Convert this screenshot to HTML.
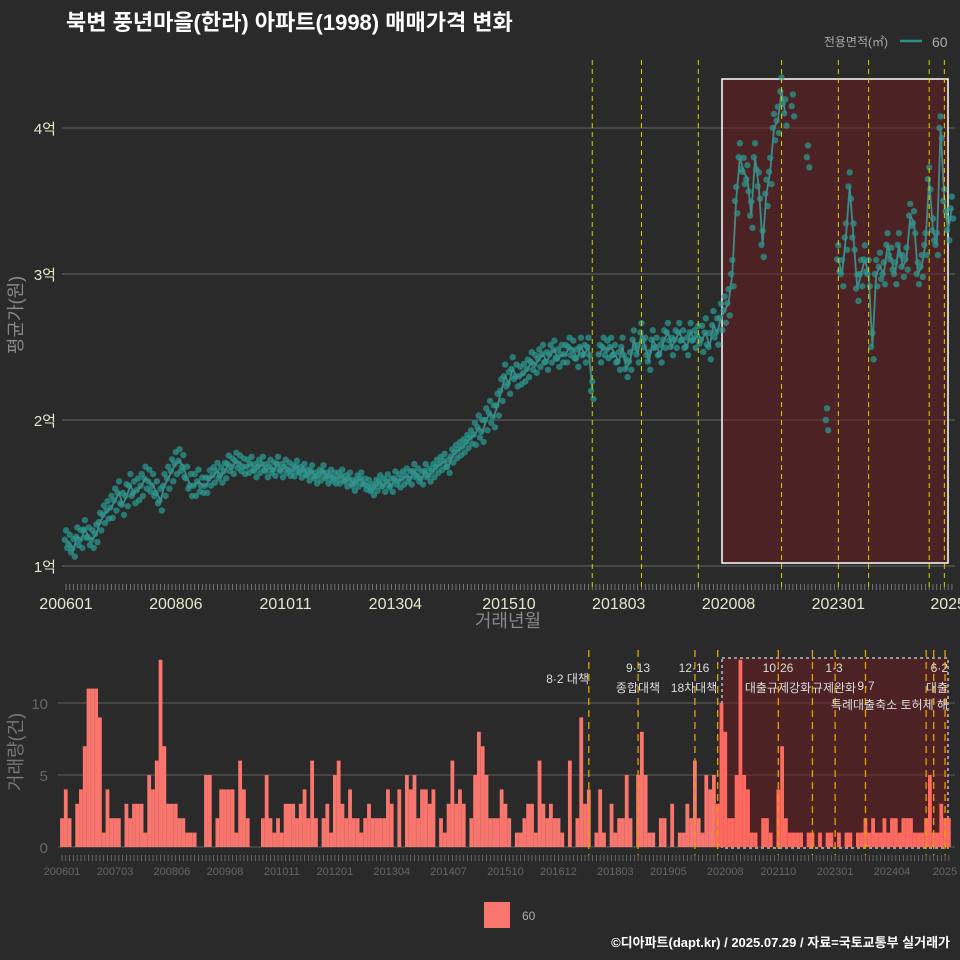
<!DOCTYPE html>
<html><head><meta charset="utf-8">
<style>
body{margin:0;background:#2a2a2a;}
svg{display:block;font-family:"Liberation Sans","Noto Sans CJK KR",sans-serif;}
</style></head><body>
<svg id="c" width="960" height="960" viewBox="0 0 960 960">
<rect width="960" height="960" fill="#2a2a2a"/>
<text x="66" y="30" fill="#fff" font-size="22" font-weight="bold">북변 풍년마을(한라) 아파트(1998) 매매가격 변화</text>
<g>
<text x="888" y="46" fill="#aaa" font-size="12" text-anchor="end">전용면적(㎡)</text>
<line x1="900" y1="41" x2="922" y2="41" stroke="#2e8f8a" stroke-width="2.5"/>
<text x="932" y="47" fill="#aaa" font-size="14">60</text>
</g>
<g id="topPanel"></g>
<g id="botPanel"></g>
<text transform="translate(22,315) rotate(-90)" fill="#888" font-size="18" text-anchor="middle">평균가(원)</text>
<text x="508" y="627" fill="#888" font-size="18" text-anchor="middle">거래년월</text>
<text transform="translate(22,752) rotate(-90)" fill="#777" font-size="18" text-anchor="middle">거래량(건)</text>
<rect x="484" y="902" width="26" height="26" fill="#f8766d"/>
<text x="522" y="920" fill="#aaa" font-size="12">60</text>
<text x="950" y="947" fill="#fff" font-size="13" font-weight="bold" text-anchor="end">©디아파트(dapt.kr) / 2025.07.29 / 자료=국토교통부 실거래가</text>
</svg>
<script>
const avgPrice=[1.18,1.15,1.12,1.2,1.18,1.25,1.2,1.18,1.22,1.3,1.35,1.38,
1.4,1.45,1.5,1.42,1.48,1.55,1.5,1.52,1.55,1.6,1.58,1.55,
1.5,1.45,1.55,1.6,1.65,1.7,1.72,1.68,1.6,1.55,1.55,1.58,
1.55,1.55,1.6,1.62,1.65,1.62,1.65,1.7,1.68,1.72,1.7,1.68,
1.68,1.7,1.65,1.68,1.7,1.65,1.68,1.66,1.7,1.65,1.68,1.66,
1.65,1.68,1.64,1.66,1.62,1.65,1.6,1.62,1.65,1.6,1.62,1.6,
1.6,1.62,1.58,1.6,1.55,1.58,1.6,1.56,1.55,1.52,1.55,1.58,
1.55,1.58,1.55,1.6,1.58,1.6,1.62,1.6,1.65,1.62,1.6,1.65,
1.62,1.65,1.68,1.7,1.72,1.68,1.75,1.78,1.8,1.82,1.85,1.88,
1.9,1.95,1.92,2.0,2.05,2.02,2.1,2.2,2.3,2.25,2.35,2.3,
2.3,2.32,2.35,2.4,2.38,2.42,2.45,2.4,2.45,2.48,2.42,2.45,
2.45,2.5,2.48,2.42,2.5,2.45,2.5,2.2,null,2.45,2.5,2.48,
2.5,2.45,2.4,2.5,2.35,2.4,2.55,2.45,2.6,2.5,2.4,2.55,
2.5,2.45,2.55,2.6,2.5,2.55,2.6,2.55,2.5,2.6,2.55,2.58,
2.55,2.6,2.5,2.65,2.6,2.7,2.75,2.8,3.0,3.5,3.8,3.7,
3.65,3.4,3.8,3.6,3.2,3.55,3.7,4.0,4.05,4.25,4.1,null,
4.15,null,null,null,3.8,null,null,null,null,2.0,null,null,
3.1,3.0,3.25,3.6,3.25,2.9,3.0,3.1,3.0,2.5,3.0,3.05,
3.0,3.2,3.1,3.0,3.2,3.05,3.1,3.4,3.35,3.0,3.05,3.2,
3.65,3.3,3.2,4.0,3.5,3.3,3.45];
const yearSpread=[0.08,0.1,0.1,0.07,0.06,0.05,0.05,0.06,0.06,0.1,0.08,0.08,0.08,0.08,0.12,0.12,0.1,0.12,0.1,0.1];
const volume=[2,4,2,0,3,4,7,11,11,11,9,1,
4,2,2,2,0,3,2,3,3,3,1,5,
4,6,13,7,3,3,3,2,2,1,1,1,
0,0,5,5,0,2,4,4,4,4,1,6,
4,2,0,0,0,2,5,2,1,2,1,3,
3,3,2,3,4,2,6,2,0,2,3,1,
5,6,3,2,4,2,2,1,2,3,2,2,
2,2,4,3,0,4,0,5,4,5,2,4,
4,3,4,0,2,1,3,6,3,4,3,0,
2,5,8,7,5,2,2,2,4,3,2,0,
1,1,2,3,3,1,6,3,2,3,2,2,
1,0,6,0,2,9,3,4,0,1,4,1,
0,3,1,2,2,5,2,0,5,8,5,1,
1,0,2,2,0,3,0,1,1,3,2,6,
2,1,5,4,5,3,10,8,2,2,5,13,
5,4,1,1,0,2,2,1,0,4,7,2,
1,1,1,1,0,1,1,0,1,0,1,1,
0,1,0,1,1,0,1,1,2,1,2,1,
1,2,1,2,2,1,2,2,2,1,1,1,
2,5,1,1,3,2,2];
const priceTicks=[1,2,3,4];
const priceTickLabels=["1억","2억","3억","4억"];
const volTicks=[0,5,10];
const topXLabels=["200601","200806","201011","201304","201510","201803","202008","202301","2025"];
const topXLabelMonths=[0,29,58,87,117,146,175,204,233];
const botXLabels=["200601","200703","200806","200908","201011","201201","201304","201407","201510","201612","201803","201905","202008","202110","202301","202404","2025"];
const botXLabelMonths=[0,14,29,43,58,72,87,102,117,131,146,160,175,189,204,219,233];
const topPolicyMonths=[139,152,167,189,204,212,228,232];
const botPolicyMonths=[139,152,167,173,189,198,204,212,228,230,233];

const NS="http://www.w3.org/2000/svg";
function mk(p,t,a){const e=document.createElementNS(NS,t);for(const k in a)e.setAttribute(k,a[k]);p.appendChild(e);return e;}
const xT=m=>66+3.786*m, yT=v=>566-(v-1)*146;
const xB=m=>62+3.79*m, yB=v=>847-v*14.4;
const topG=document.getElementById('topPanel'), botG=document.getElementById('botPanel');

priceTicks.forEach((v,i)=>{
 const l=mk(topG,'line',{x1:62,x2:955,y1:yT(v),y2:yT(v),stroke:'#5a5a5a','stroke-width':1.2});
 
 
 const t=mk(topG,'text',{x:56,y:yT(v)+6,fill:'#e6e6cc','font-size':15,'text-anchor':'end'});t.textContent=priceTickLabels[i];
 
 
});
const hb=mk(topG,'rect',{x:722,y:79,width:226,height:484,fill:'rgba(110,25,30,0.5)',stroke:'#fff','stroke-width':1.5});


for(let m=0;m<avgPrice.length;m++){mk(topG,'line',{x1:xT(m),x2:xT(m),y1:584,y2:590,stroke:'#888','stroke-width':0.8});}
const dots=mk(topG,'g',{});


avgPrice.forEach((v,m)=>{
 if(v==null)return;
 const d=yearSpread[Math.floor(m/12)];
 [v,v+d*0.8,v-d*0.7].forEach((p,k)=>{
  mk(dots,'circle',{cx:xT(m)+(k-1)*1.2,cy:yT(p),r:3.2,fill:'#2a9d94','fill-opacity':0.7});
 });
});
let path='',pen=false;
avgPrice.forEach((v,m)=>{if(v==null){pen=false;return;}path+=(pen?'L':'M')+xT(m).toFixed(1)+','+yT(v).toFixed(1);pen=true;});
const ln=mk(topG,'path',{d:path,fill:'none',stroke:'#3a8d88','stroke-width':1.8});


topPolicyMonths.forEach(m=>{
 const l=mk(topG,'line',{x1:xT(m),x2:xT(m),y1:60,y2:590,stroke:'#d4d400','stroke-width':1,'stroke-dasharray':'5,4'});
 
 
});
topXLabels.forEach((s,i)=>{
 const t=mk(topG,'text',{x:xT(topXLabelMonths[i]),y:609,fill:'#e6e6cc','font-size':16,'text-anchor':'middle'});t.textContent=s;
 
 
});

volTicks.forEach(v=>{
 const l=mk(botG,'line',{x1:58,x2:955,y1:yB(v),y2:yB(v),stroke:'#555','stroke-width':1.2});
 
 
 const t=mk(botG,'text',{x:48,y:yB(v)+6,fill:'#666','font-size':15,'text-anchor':'end'});t.textContent=v;
 
 
});
const bb=mk(botG,'rect',{x:722,y:658,width:226,height:190,fill:'rgba(110,25,30,0.5)',stroke:'#bbb','stroke-width':1.5,'stroke-dasharray':'3,3'});


volume.forEach((v,m)=>{
 if(!v)return;
 const r=mk(botG,'rect',{x:xB(m)-1.9,y:yB(v),width:3.8,height:v*14.4,fill:m>=173?'#ff6a60':'#f8766d'});
 
 
});
botPolicyMonths.forEach(m=>{
 const l=mk(botG,'line',{x1:xB(m),x2:xB(m),y1:650,y2:855,stroke:'#e6a000','stroke-width':1.3,'stroke-dasharray':'7,5'});
 
 
});
for(let m=0;m<volume.length;m++){mk(botG,'line',{x1:xB(m),x2:xB(m),y1:855,y2:861,stroke:'#777','stroke-width':0.8});}
botXLabels.forEach((s,i)=>{
 const t=mk(botG,'text',{x:xB(botXLabelMonths[i]),y:875,fill:'#666','font-size':11,'text-anchor':'middle'});t.textContent=s;
 
 
});
const ann=[["8·2 대책",589,683,'end'],["9·13",638,672,'middle'],["종합대책",638,692,'middle'],["12·16",694,672,'middle'],["18차대책",694,692,'middle'],["10·26",778,672,'middle'],["대출규제강화",778,692,'middle'],["1·3",834,672,'middle'],["규제완화",834,692,'middle'],["9·7",866,690,'middle'],["특례대출축소 토허제 해",948,709,'end'],["6·2",948,672,'end'],["대출",948,692,'end']];
ann.forEach(a=>{
 const t=mk(botG,'text',{x:a[1],y:a[2],fill:'#ddd','font-size':12,'text-anchor':a[3]});t.textContent=a[0];
 
 
});
</script>
</body></html>
